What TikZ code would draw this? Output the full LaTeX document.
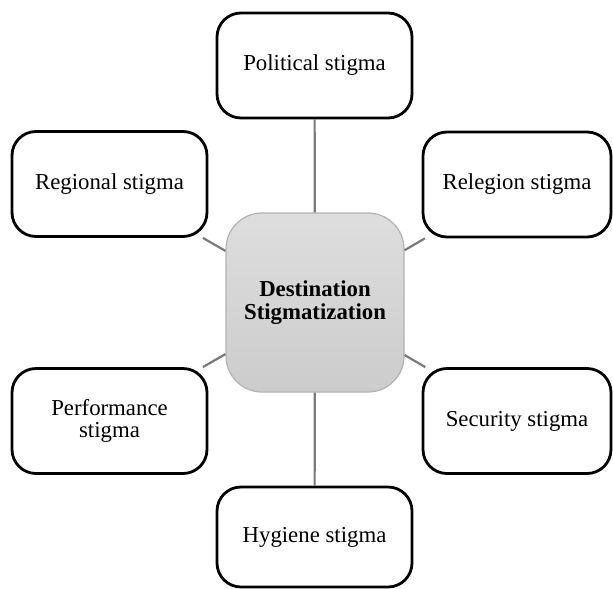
\documentclass[tikz,border=0pt]{standalone}
\usepackage{fontspec}
\setmainfont{Liberation Serif}
\usetikzlibrary{positioning}

\begin{document}
\begin{tikzpicture}[x=0.5pt, y=-0.5pt,
  stigma/.style={draw, line width=1.4pt, rounded corners=12pt, fill=white, minimum width=97.5pt, minimum height=52.5pt, inner sep=0pt, align=center, font=\fontsize{11.4}{11}\selectfont},
  core/.style={draw=black!30, line width=0.6pt, rounded corners=18pt, top color=black!13, bottom color=black!20, minimum width=89pt, minimum height=89.5pt, inner sep=0pt, align=center, font=\fontsize{11.4}{11.8}\selectfont\bfseries},
  link/.style={draw=black!52, line width=1.1pt}]
\useasboundingbox (0,0) rectangle (613,588);

\node[core] (ctr) at (315, 302.5) {Destination\\Stigmatization};

\node[stigma] (pol) at (314.5, 65.5) {Political stigma};
\node[stigma] (reg) at (109.5, 184) {Regional stigma};
\node[stigma, minimum width=94pt] (rel) at (517, 184.5) {Relegion stigma};
\node[stigma] (perf) at (109.5, 421) {Performance\\stigma};
\node[stigma, minimum width=94pt] (sec) at (517, 421) {Security stigma};
\node[stigma, minimum height=50pt] (hyg) at (314.5, 537) {Hygiene stigma};

\draw[link] (pol) -- (ctr);
\draw[link] (reg) -- (ctr);
\draw[link] (rel) -- (ctr);
\draw[link] (perf) -- (ctr);
\draw[link] (sec) -- (ctr);
\draw[link] (hyg) -- (ctr);

\end{tikzpicture}
\end{document}
